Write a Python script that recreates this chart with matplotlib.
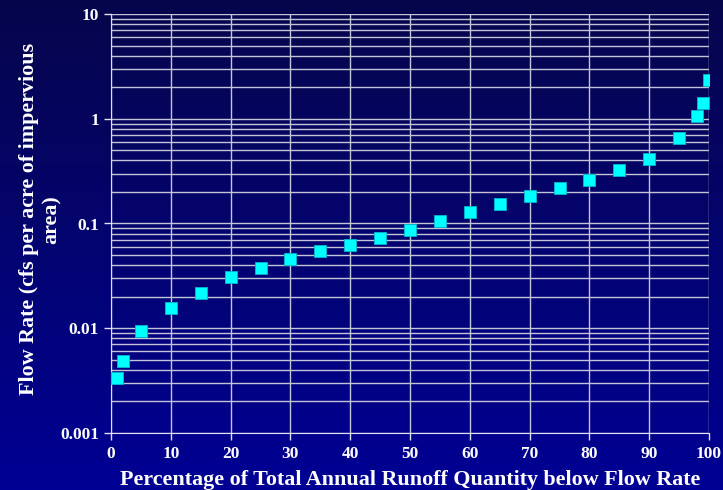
import numpy as np
import matplotlib.pyplot as plt
from matplotlib.ticker import FixedLocator, NullFormatter
from matplotlib.colors import LinearSegmentedColormap

# percent of total annual runoff below flow rate
pct = [1, 2, 5, 10, 15, 20, 25, 30, 35, 40, 45, 50, 55, 60, 65, 70, 75, 80, 85, 90, 95, 98, 99, 100]
# flow rate, cfs per acre of impervious area
flow = [0.00335, 0.00486, 0.0094, 0.0156, 0.0217, 0.0308, 0.0376, 0.0458, 0.0546, 0.0623,
        0.0727, 0.0867, 0.1057, 0.129, 0.153, 0.183, 0.218, 0.260, 0.324, 0.413,
        0.655, 1.06, 1.41, 2.34]

ytick_vals = [0.001, 0.01, 0.1, 1, 10]
ytick_labels = ['0.001', '0.01', '0.1', '1', '10']
xtick_vals = list(range(0, 101, 10))

plt.rcParams['font.family'] = ['Liberation Serif', 'DejaVu Serif']
plt.rcParams['font.weight'] = 'bold'

fig = plt.figure(figsize=(7.23, 4.9), dpi=100)

# background gradient
bg = fig.add_axes([0, 0, 1, 1], zorder=0)
grad = np.linspace(0, 1, 256).reshape(-1, 1)
cmap = LinearSegmentedColormap.from_list('bg', ['#06064c', '#000094'])
bg.imshow(grad, aspect='auto', cmap=cmap, extent=[0, 1, 0, 1], origin='upper')
bg.axis('off')

ax = fig.add_axes([111 / 723, 1 - 433 / 490, 598 / 723, 419 / 490], zorder=1)
ax.set_facecolor('none')
ax.set_yscale('log')
ax.set_ylim(0.001, 10)
ax.set_xlim(0, 100)

gcol = '#c4c4d8'
ax.yaxis.set_major_locator(FixedLocator(ytick_vals))
minors = [m * 10.0 ** e for e in range(-3, 1) for m in range(2, 10)]
ax.yaxis.set_minor_locator(FixedLocator(minors))
ax.yaxis.set_minor_formatter(NullFormatter())
ax.set_yticklabels(ytick_labels)
ax.set_xticks(xtick_vals)

ax.grid(True, which='major', axis='both', color=gcol, lw=1.0)
ax.grid(True, which='minor', axis='y', color=gcol, lw=1.0)
ax.set_axisbelow(True)

for s in ['top', 'right']:
    ax.spines[s].set_visible(False)
ax.spines['left'].set_color('#e0e0ee')
ax.spines['bottom'].set_color('#e0e0ee')

ax.tick_params(axis='both', which='major', colors='#e0e0ee', labelcolor='white',
               labelsize=12.5, length=5, width=1)
ax.tick_params(axis='y', which='minor', length=0)
ax.tick_params(axis='x', pad=4)

ax.plot(pct, flow, 's', color='#00ffff', mec='#00b8d0', mew=0.6, ms=8, zorder=3)

ax.set_xlabel('Percentage of Total Annual Runoff Quantity below Flow Rate',
              color='white', fontsize=15.8, fontweight='bold', labelpad=6)
ax.set_ylabel('Flow Rate (cfs per acre of impervious\narea)',
              color='white', fontsize=15.8, fontweight='bold')
ax.yaxis.set_label_coords(-0.082, 0.51)

fig.savefig('out.png', dpi=100, facecolor='#00007a')
